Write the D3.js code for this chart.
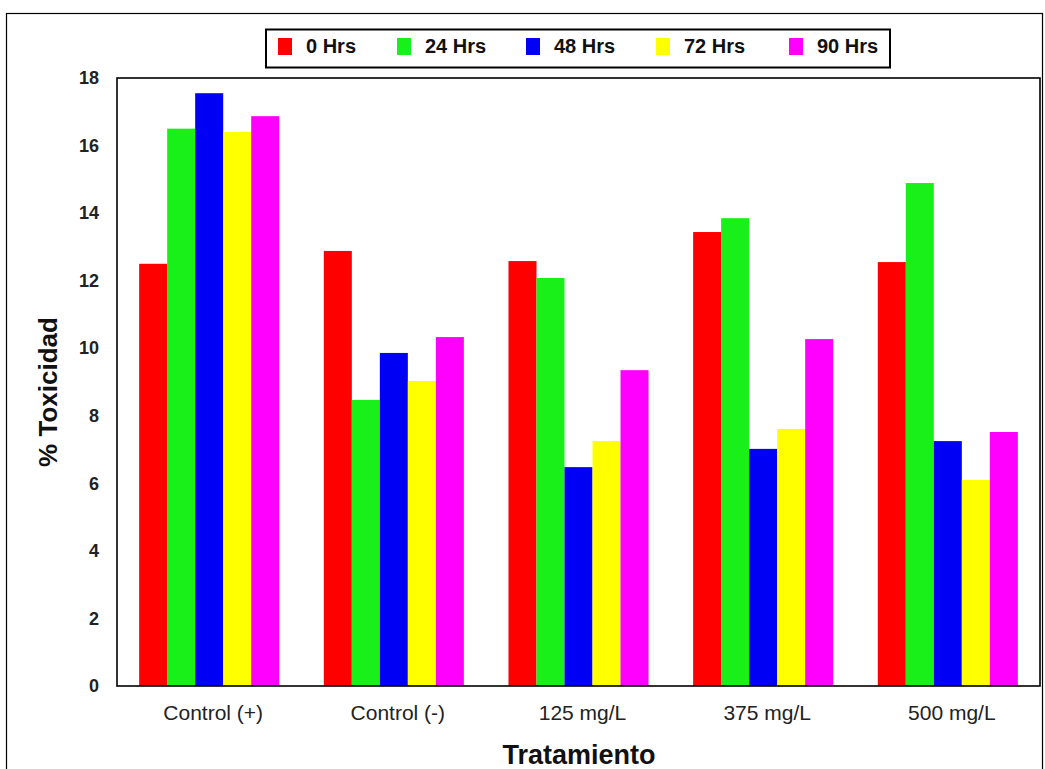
<!DOCTYPE html>
<html>
<head>
<meta charset="utf-8">
<script src="https://cdn.jsdelivr.net/npm/d3@7/dist/d3.min.js"></script>
<style>
  html, body { margin: 0; padding: 0; background: #fff; }
  svg { display: block; font-family: "Liberation Sans", Arial, sans-serif; }
</style>
</head>
<body>
<svg id="chart" width="1045" height="769"></svg>
<script>
// Treatments on the x axis
const categories = ["Control (+)", "Control (-)", "125 mg/L", "375 mg/L", "500 mg/L"];
// Exposure times (series)
const series = ["0 Hrs", "24 Hrs", "48 Hrs", "72 Hrs", "90 Hrs"];
const seriesColors = ["#ff0000", "#19f019", "#0000f5", "#ffff00", "#ff00ff"];
// % toxicity per series, one value per treatment
const hrs0  = [12.5, 12.88, 12.58, 13.44, 12.55];
const hrs24 = [16.5, 8.47, 12.08, 13.85, 14.89];
const hrs48 = [17.55, 9.86, 6.48, 7.02, 7.25];
const hrs72 = [16.4, 9.03, 7.25, 7.61, 6.1];
const hrs90 = [16.87, 10.33, 9.35, 10.27, 7.52];
const yTicks = [0, 2, 4, 6, 8, 10, 12, 14, 16, 18];

const values = [hrs0, hrs24, hrs48, hrs72, hrs90];
const rows = categories.map((c, i) => ({
  category: c,
  bars: series.map((s, j) => ({ key: s, value: values[j][i], color: seriesColors[j] }))
}));

const svg = d3.select("#chart");
const plot = { left: 117, right: 1040, top: 78, bottom: 686 };

// Outer frame
svg.append("rect")
  .attr("x", 6.5).attr("y", 13.5)
  .attr("width", 1036).attr("height", 770)
  .attr("fill", "none").attr("stroke", "#000").attr("stroke-width", 1.2);

const x0 = d3.scaleBand()
  .domain(categories)
  .range([plot.left, plot.right])
  .paddingInner(0.2416)
  .paddingOuter(0.12);

const x1 = d3.scaleBand()
  .domain(series)
  .range([0, x0.bandwidth()])
  .padding(0);

const y = d3.scaleLinear().domain([0, 18]).range([plot.bottom, plot.top]);

// Bars
const groups = svg.append("g").selectAll("g")
  .data(rows).join("g")
  .attr("transform", d => `translate(${x0(d.category)},0)`);

groups.selectAll("rect")
  .data(d => d.bars).join("rect")
  .attr("x", d => x1(d.key))
  .attr("y", d => y(d.value))
  .attr("width", x1.bandwidth())
  .attr("height", d => y(0) - y(d.value))
  .attr("fill", d => d.color);

// Plot frame
svg.append("rect")
  .attr("x", plot.left).attr("y", plot.top)
  .attr("width", plot.right - plot.left).attr("height", plot.bottom - plot.top)
  .attr("fill", "none").attr("stroke", "#000").attr("stroke-width", 1.6);

// Y axis
const yAxis = svg.append("g")
  .attr("transform", `translate(${plot.left},0)`)
  .call(d3.axisLeft(y).tickValues(yTicks).tickSize(0).tickPadding(18));
yAxis.select(".domain").remove();
yAxis.selectAll("text")
  .attr("font-size", 18).attr("font-weight", "bold").attr("fill", "#222")
  .attr("font-family", "Liberation Sans, Arial, sans-serif");

// X axis
const xAxis = svg.append("g")
  .attr("transform", `translate(0,${plot.bottom})`)
  .call(d3.axisBottom(x0).tickSize(0).tickPadding(0));
xAxis.select(".domain").remove();
xAxis.selectAll("text")
  .attr("dy", null).attr("y", 34)
  .attr("dx", 4)
  .attr("font-size", 21).attr("fill", "#222")
  .attr("font-family", "Liberation Sans, Arial, sans-serif");

// Axis titles
svg.append("text")
  .attr("transform", "translate(57,392) rotate(-90)")
  .attr("text-anchor", "middle")
  .attr("font-size", 26).attr("font-weight", "bold").attr("fill", "#111")
  .text("% Toxicidad");

svg.append("text")
  .attr("x", 579).attr("y", 764)
  .attr("text-anchor", "middle")
  .attr("font-size", 27).attr("font-weight", "bold").attr("fill", "#111")
  .text("Tratamiento");

// Legend
const legend = svg.append("g");
legend.append("rect")
  .attr("x", 266).attr("y", 29.5).attr("width", 624).attr("height", 38)
  .attr("fill", "#fff").attr("stroke", "#000").attr("stroke-width", 2);
const legendX = [278, 397, 526, 656, 789];
series.forEach((s, i) => {
  legend.append("rect")
    .attr("x", legendX[i]).attr("y", 38).attr("width", 14).attr("height", 17)
    .attr("fill", seriesColors[i]);
  legend.append("text")
    .attr("x", legendX[i] + 28).attr("y", 53)
    .attr("font-size", 20).attr("font-weight", "bold").attr("fill", "#111")
    .text(s);
});
</script>
</body>
</html>
